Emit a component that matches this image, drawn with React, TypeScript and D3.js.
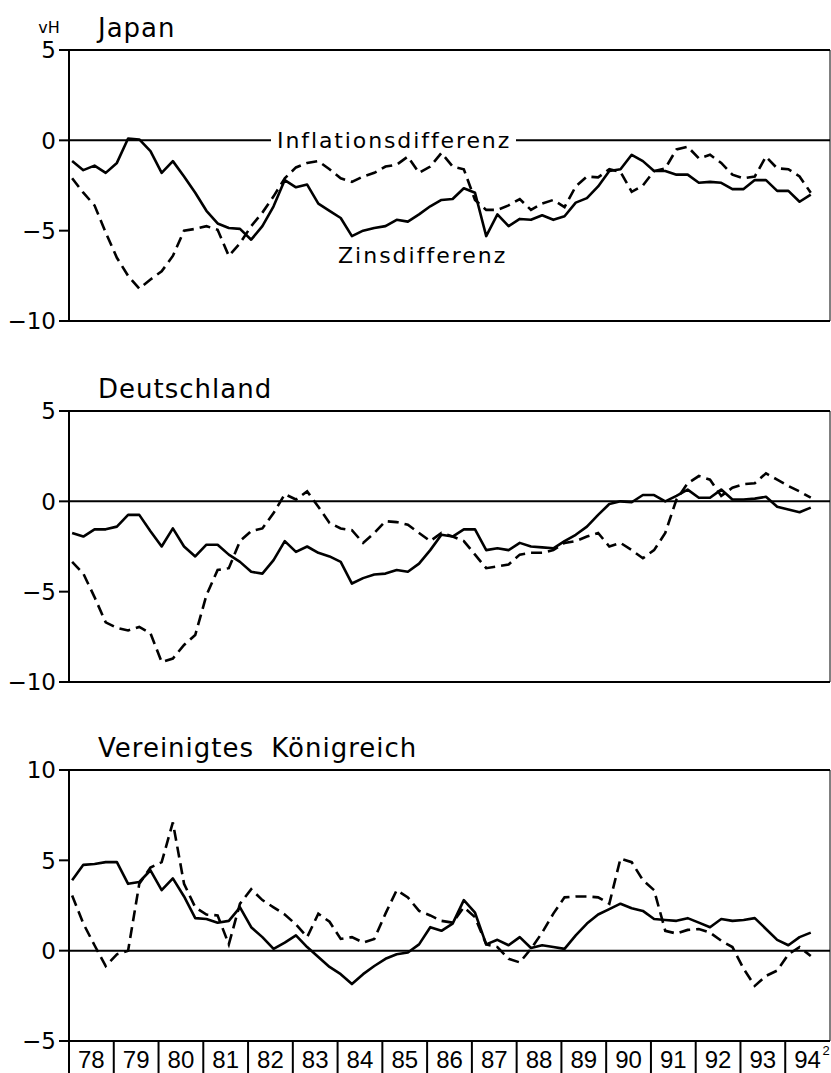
import React from 'react';
import * as d3 from 'd3';

// year labels on the bottom axis
const years = ['78', '79', '80', '81', '82', '83', '84', '85', '86', '87', '88', '89', '90', '91', '92', '93', '94'];

// quarterly values, 1978 Q1 .. 1994 Q3 (vH)
const japanZins = [
  -1.15, -1.65, -1.4, -1.8, -1.25, 0.1, 0.05, -0.6, -1.8, -1.15, -2.0, -2.9, -3.9, -4.6, -4.85, -4.9,
  -5.5, -4.75, -3.65, -2.2, -2.6, -2.45, -3.5, -3.9, -4.3, -5.3, -5.0, -4.85, -4.75, -4.4, -4.5, -4.1,
  -3.65, -3.3, -3.25, -2.65, -2.9, -5.3, -4.1, -4.75, -4.35, -4.4, -4.15, -4.4, -4.2, -3.45, -3.2, -2.55,
  -1.7, -1.6, -0.8, -1.15, -1.7, -1.7, -1.9, -1.9, -2.35, -2.3, -2.35, -2.7, -2.7, -2.2, -2.2, -2.8,
  -2.8, -3.4, -3.0,
];
const japanInfl = [
  -2.1, -2.9, -3.6, -5.1, -6.5, -7.5, -8.2, -7.7, -7.25, -6.4, -5.0, -4.9, -4.75, -4.95, -6.4, -5.7,
  -4.75, -4.0, -3.1, -2.1, -1.5, -1.25, -1.15, -1.6, -2.1, -2.3, -2.0, -1.8, -1.45, -1.35, -0.9, -1.8,
  -1.45, -0.7, -1.45, -1.6, -3.3, -3.85, -3.85, -3.6, -3.25, -3.85, -3.5, -3.3, -3.7, -2.55, -2.0, -2.05,
  -1.6, -1.75, -2.85, -2.5, -1.7, -1.55, -0.5, -0.35, -1.0, -0.8, -1.25, -1.9, -2.1, -2.0, -0.9, -1.55,
  -1.6, -2.0, -2.9,
];
const deZins = [
  -1.75, -1.95, -1.55, -1.55, -1.4, -0.75, -0.75, -1.65, -2.5, -1.5, -2.5, -3.05, -2.4, -2.4, -2.95, -3.35,
  -3.9, -4.0, -3.25, -2.2, -2.8, -2.5, -2.85, -3.05, -3.35, -4.55, -4.25, -4.05, -4.0, -3.8, -3.9, -3.45,
  -2.7, -1.85, -1.95, -1.55, -1.55, -2.7, -2.6, -2.7, -2.3, -2.5, -2.55, -2.6, -2.2, -1.85, -1.4, -0.75,
  -0.15, 0.0, -0.05, 0.35, 0.35, 0.0, 0.3, 0.65, 0.2, 0.2, 0.65, 0.1, 0.1, 0.15, 0.25, -0.3,
  -0.45, -0.6, -0.35,
];
const deInfl = [
  -3.35, -4.0, -5.3, -6.7, -7.0, -7.15, -6.95, -7.3, -8.9, -8.7, -7.95, -7.4, -5.2, -3.8, -3.7, -2.2,
  -1.65, -1.5, -0.65, 0.4, 0.1, 0.55, -0.3, -1.2, -1.5, -1.6, -2.3, -1.75, -1.1, -1.15, -1.3, -1.75,
  -2.2, -1.75, -1.95, -2.2, -2.95, -3.7, -3.6, -3.5, -2.95, -2.85, -2.85, -2.7, -2.3, -2.2, -1.95, -1.75,
  -2.5, -2.3, -2.7, -3.15, -2.7, -1.75, 0.1, 1.0, 1.4, 1.2, 0.3, 0.75, 0.95, 1.0, 1.55, 1.2,
  0.85, 0.55, 0.2,
];
const ukZins = [
  3.9, 4.75, 4.8, 4.9, 4.9, 3.7, 3.8, 4.45, 3.35, 4.0, 3.0, 1.8, 1.75, 1.55, 1.65, 2.4,
  1.3, 0.75, 0.1, 0.45, 0.85, 0.2, -0.35, -0.9, -1.3, -1.85, -1.3, -0.85, -0.45, -0.2, -0.1, 0.35,
  1.3, 1.1, 1.5, 2.8, 2.1, 0.35, 0.6, 0.3, 0.75, 0.15, 0.3, 0.2, 0.1, 0.85, 1.5, 2.0,
  2.3, 2.6, 2.35, 2.2, 1.75, 1.7, 1.65, 1.8, 1.55, 1.3, 1.75, 1.65, 1.7, 1.8, 1.2, 0.6,
  0.3, 0.75, 1.0,
];
const ukInfl = [
  3.05, 1.5, 0.3, -0.85, -0.2, 0.0, 3.7, 4.6, 4.9, 7.1, 3.7, 2.4, 2.0, 1.95, 0.35, 2.6,
  3.4, 2.8, 2.4, 2.0, 1.45, 0.75, 2.05, 1.6, 0.65, 0.75, 0.45, 0.65, 2.05, 3.35, 2.95, 2.2,
  1.95, 1.65, 1.55, 2.4, 1.85, 0.35, 0.2, -0.45, -0.65, 0.1, 1.0, 2.05, 2.95, 3.0, 3.0, 2.95,
  2.6, 5.1, 4.9, 3.9, 3.35, 1.1, 0.95, 1.15, 1.2, 1.0, 0.55, 0.2, -1.0, -1.95, -1.4, -1.1,
  -0.2, 0.2, -0.3,
];

const W = 831;
const H = 1073;
const left = 69;
const right = 830;
const panelH = 271;

const panels = [
  { title: 'Japan', top: 50, domain: [-10, 5], ticks: [5, 0, -5, -10], zins: japanZins, infl: japanInfl },
  { title: 'Deutschland', top: 411, domain: [-10, 5], ticks: [5, 0, -5, -10], zins: deZins, infl: deInfl },
  { title: 'Vereinigtes Königreich', top: 770, domain: [-5, 10], ticks: [10, 5, 0, -5], zins: ukZins, infl: ukInfl },
];

const font = '"DejaVu Sans", Verdana, sans-serif';
const narrow = '"Liberation Sans Narrow", "Arial Narrow", sans-serif';

const x = d3.scaleLinear().domain([78, 95]).range([left, right]);
const tOf = (i: number) => 78 + i / 4 + 0.07;

const fmt = (v: number) => (v < 0 ? '\u2212' + Math.abs(v) : String(v));

function Panel({ p, last }: { p: typeof panels[number]; last: boolean }) {
  const y = d3.scaleLinear().domain(p.domain).range([p.top + panelH, p.top]);
  const line = d3.line<number>().x((_, i) => x(tOf(i))).y(d => y(d));
  const bottom = p.top + panelH;
  return (
    <g>
      <text x={98} y={p.top - 13} fontFamily={font} fontSize={26} letterSpacing={1} wordSpacing={8}>
        {p.title}
      </text>
      {/* frame */}
      <line x1={left} x2={right} y1={p.top} y2={p.top} stroke="#000" strokeWidth={2} />
      <line x1={left} x2={right} y1={bottom} y2={bottom} stroke="#000" strokeWidth={2} />
      <line x1={right} x2={right} y1={p.top} y2={bottom} stroke="#000" strokeWidth={1} />
      <line x1={left} x2={left} y1={p.top} y2={last ? H : bottom} stroke="#000" strokeWidth={2} />
      <line x1={left} x2={right} y1={y(0)} y2={y(0)} stroke="#000" strokeWidth={2} />
      {p.ticks.map(t => (
        <g key={t}>
          <line x1={left - 10} x2={left} y1={y(t)} y2={y(t)} stroke="#000" strokeWidth={2} />
          <text x={left - 13} y={y(t)} dy="0.36em" textAnchor="end" fontFamily={font} fontSize={23}>
            {fmt(t)}
          </text>
        </g>
      ))}
      <path d={line(p.infl) || ''} fill="none" stroke="#000" strokeWidth={2.6} strokeDasharray="11,6" />
      <path d={line(p.zins) || ''} fill="none" stroke="#000" strokeWidth={2.6} strokeLinejoin="round" />
    </g>
  );
}

export default function App() {
  const jp = panels[0];
  const yJ = d3.scaleLinear().domain(jp.domain).range([jp.top + panelH, jp.top]);
  const rowTop = panels[2].top + panelH;
  return (
    <svg width={W} height={H} style={{ position: 'absolute', left: 0, top: 0, background: '#fff' }}>
      <rect width={W} height={H} fill="#fff" />
      <text x={49} y={33} textAnchor="middle" fontFamily={font} fontSize={16}>vH</text>
      {panels.map((p, i) => (
        <Panel key={p.title} p={p} last={i === panels.length - 1} />
      ))}
      {/* labels in the Japan panel */}
      <rect x={271} y={yJ(0) - 10} width={245} height={20} fill="#fff" />
      <text x={277} y={yJ(0) + 8} fontFamily={font} fontSize={22} letterSpacing={1.9}>Inflationsdifferenz</text>
      <text x={338} y={263} fontFamily={font} fontSize={22} letterSpacing={2}>Zinsdifferenz</text>
      {/* year row */}
      {years.map((yr, i) => {
        const x0 = x(78 + i);
        const x1 = x(79 + i);
        return (
          <g key={yr}>
            {i > 0 && <line x1={x0} x2={x0} y1={rowTop} y2={H} stroke="#000" strokeWidth={2} />}
            <text x={(x0 + x1) / 2} y={H - 5} textAnchor="middle" fontFamily={narrow} fontSize={24}>
              {yr}
            </text>
          </g>
        );
      })}
      <text x={826} y={H - 18} textAnchor="middle" fontFamily={narrow} fontSize={13}>2</text>
    </svg>
  );
}
